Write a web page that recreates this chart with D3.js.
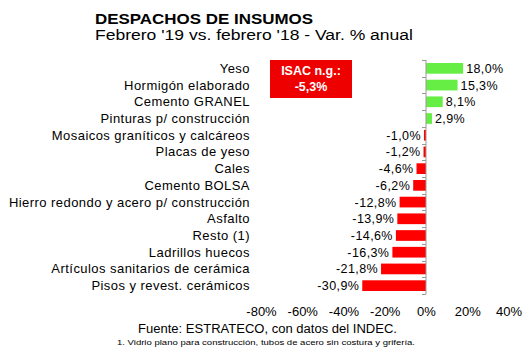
<!DOCTYPE html>
<html><head><meta charset="utf-8">
<script src="https://cdn.jsdelivr.net/npm/d3@7"></script>
<style>body{margin:0;background:#fff}svg{display:block}text{font-family:"Liberation Sans",Arial,sans-serif}</style>
</head><body><svg id="c" width="530" height="364"></svg>
<script>
const categories = ["Yeso","Hormigón elaborado","Cemento GRANEL","Pinturas p/ construcción","Mosaicos graníticos y calcáreos","Placas de yeso","Cales","Cemento BOLSA","Hierro redondo y acero p/ construcción","Asfalto","Resto (1)","Ladrillos huecos","Artículos sanitarios de cerámica","Pisos y revest. cerámicos"];
const values = [18.0,15.3,8.1,2.9,-1.0,-1.2,-4.6,-6.2,-12.8,-13.9,-14.6,-16.3,-21.8,-30.9];
const xTicks = [-80,-60,-40,-20,0,20,40];
const title = "DESPACHOS DE INSUMOS";
const subtitle = "Febrero '19 vs. febrero '18 - Var. % anual";
const isacLabel = ["ISAC n.g.:","-5,3%"];
const source = "Fuente: ESTRATECO, con datos del INDEC.";
const footnote = "1. Vidrio plano para construcción, tubos de acero sin costura y grifería.";

const svg = d3.select("#c");
const x = d3.scaleLinear().domain([-80,40]).range([261,508.5]);
const y = d3.scaleBand().domain(categories).range([60,294]).paddingInner(0.36).paddingOuter(0.18);
const fmt = v => d3.format(".1f")(Math.abs(v)).replace(".",",") + "%";
const fmtS = v => (v<0?"-":"") + fmt(v);

svg.append("text").attr("x",95).attr("y",24).attr("font-size",15.5).attr("font-weight","bold")
  .attr("textLength",218).attr("lengthAdjust","spacingAndGlyphs").text(title);
svg.append("text").attr("x",95).attr("y",40).attr("font-size",15.5)
  .attr("textLength",318).attr("lengthAdjust","spacingAndGlyphs").text(subtitle);

// bars
svg.selectAll("rect.bar").data(values).join("rect").attr("class","bar")
  .attr("x",d=>x(Math.min(0,d))).attr("width",d=>Math.abs(x(d)-x(0)))
  .attr("y",(d,i)=>y(categories[i])).attr("height",y.bandwidth())
  .attr("fill",d=>d>=0?"#66ee44":"#ff0000");

// axis line + ticks between categories
svg.append("line").attr("x1",x(0)).attr("x2",x(0)).attr("y1",60).attr("y2",294).attr("stroke","#999").attr("stroke-width",1);
const tickYs = d3.range(categories.length+1).map(i=>60+i*(234/categories.length));
svg.selectAll("line.tk").data(tickYs).join("line").attr("class","tk")
  .attr("x1",x(0)-4).attr("x2",x(0)).attr("y1",d=>Math.round(d)+0.5).attr("y2",d=>Math.round(d)+0.5).attr("stroke","#999");

// category labels
svg.selectAll("text.cat").data(categories).join("text").attr("class","cat")
  .attr("x",250).attr("y",d=>y(d)+y.bandwidth()/2+4.5).attr("text-anchor","end")
  .attr("font-size",13).attr("letter-spacing",0.45).text(d=>d);

// value labels
svg.selectAll("text.val").data(values).join("text").attr("class","val")
  .attr("x",d=>d>=0?x(d)+3:x(d)-3).attr("y",(d,i)=>y(categories[i])+y.bandwidth()/2+4.5)
  .attr("text-anchor",d=>d>=0?"start":"end").attr("font-size",12.5).attr("letter-spacing",0.4).text(fmtS);

// x axis tick labels
const xAxis = d3.axisBottom(x).tickValues(xTicks).tickSize(0).tickFormat(d=>(d<0?"-":"")+Math.abs(d)+"%");
const g = svg.append("g").attr("transform","translate(0,304)").call(xAxis);
g.select(".domain").remove();
g.selectAll("text").attr("font-size",13).attr("font-family","Liberation Sans, Arial, sans-serif").attr("fill","#000").attr("dy","0.71em");

// ISAC box
svg.append("rect").attr("x",270).attr("y",60).attr("width",82).attr("height",38).attr("fill","#ee0000");
svg.append("text").attr("x",311).attr("y",75).attr("text-anchor","middle").attr("fill","#fff").attr("font-weight","bold").attr("font-size",12.5).text(isacLabel[0]);
svg.append("text").attr("x",311).attr("y",91).attr("text-anchor","middle").attr("fill","#fff").attr("font-weight","bold").attr("font-size",12.5).text(isacLabel[1]);

svg.append("text").attr("x",138).attr("y",333).attr("font-size",12.5)
  .attr("textLength",259).attr("lengthAdjust","spacingAndGlyphs").text(source);
svg.append("text").attr("x",117).attr("y",345).attr("font-size",8)
  .attr("textLength",298).attr("lengthAdjust","spacingAndGlyphs").text(footnote);
</script></body></html>
